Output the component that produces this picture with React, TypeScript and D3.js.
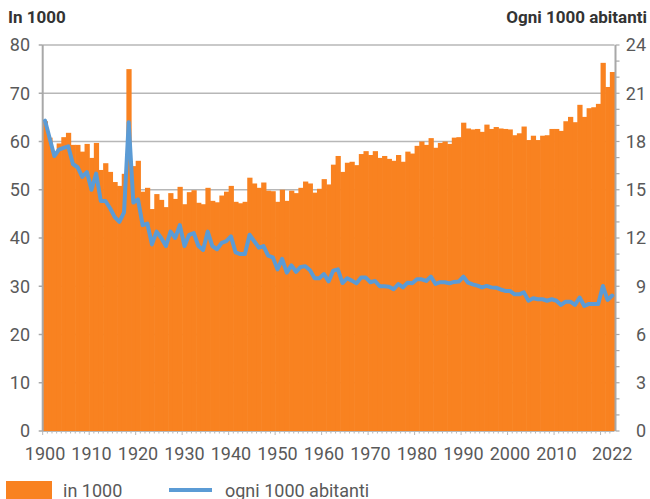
import React from "react";
import * as d3 from "d3";

const years: number[] = d3.range(1900, 2023);

const deathsThousands: number[] = [
  64.2, 60.8, 57.8, 59.6, 60.9, 61.8, 59.3, 59.3, 57.9, 59.5,
  56.6, 59.7, 54.1, 55.5, 53.7, 51.6, 50.8, 53.3, 75.0, 54.9,
  56.0, 49.6, 50.4, 46.0, 49.1, 47.9, 46.4, 49.3, 48.1, 50.6,
  47.0, 49.5, 49.9, 47.3, 47.0, 50.4, 47.7, 47.4, 48.8, 49.6,
  50.8, 47.5, 47.2, 47.5, 52.5, 51.3, 50.4, 51.5, 49.8, 49.7,
  47.5, 50.0, 47.7, 49.8, 49.3, 50.4, 51.7, 51.3, 49.4, 50.2,
  52.2, 51.1, 55.2, 57.0, 53.7, 55.6, 55.8, 55.1, 57.4, 58.0,
  57.2, 58.0, 56.6, 57.0, 56.4, 56.0, 57.2, 55.8, 57.9, 57.5,
  59.1, 60.0, 59.3, 60.7, 58.7, 59.7, 60.0, 59.5, 60.8, 60.9,
  63.9, 62.7, 62.5, 62.6, 62.0, 63.5, 62.6, 63.0, 62.7, 62.6,
  62.5, 61.3, 61.7, 63.1, 60.3, 61.2, 60.3, 61.2, 61.3, 62.6,
  62.6, 62.2, 64.2, 65.1, 64.0, 67.6, 65.1, 66.9, 67.1, 67.8,
  76.3, 71.3, 74.4,
];

const ratePer1000: number[] = [
  19.3, 18.2, 17.1, 17.5, 17.6, 17.7, 16.6, 16.4, 15.8, 16.1,
  15.0, 16.0, 14.3, 14.3, 13.85, 13.3, 13.0, 13.6, 19.2, 14.2,
  14.4, 12.8, 12.9, 11.6, 12.4, 12.0, 11.5, 12.4, 12.0, 12.8,
  11.5, 12.2, 12.3, 11.5, 11.26, 12.4, 11.5, 11.3, 11.7, 11.8,
  12.1, 11.1, 11.0, 11.0, 12.2, 11.8, 11.4, 11.5, 10.9, 10.8,
  10.05, 10.7, 9.85, 10.3, 9.9, 10.2, 10.25, 10.0, 9.5, 9.5,
  9.76, 9.3, 9.97, 10.05, 9.2, 9.5, 9.35, 9.18, 9.54, 9.54,
  9.25, 9.33, 9.0, 9.0, 8.97, 8.81, 9.14, 8.93, 9.22, 9.18,
  9.43, 9.43, 9.33, 9.6, 9.14, 9.25, 9.25, 9.18, 9.27, 9.29,
  9.6, 9.22, 9.12, 9.04, 8.93, 9.02, 8.93, 8.91, 8.8, 8.71,
  8.71, 8.5, 8.5, 8.62, 8.1, 8.25, 8.19, 8.19, 8.1, 8.19,
  8.1, 7.84, 8.04, 8.04, 7.84, 8.3, 7.77, 7.9, 7.9, 7.9,
  9.02, 8.15, 8.42,
];

const xTickYears: number[] = [1900, 1910, 1920, 1930, 1940, 1950, 1960, 1970, 1980, 1990, 2000, 2010, 2022];
const leftTicks: number[] = [0, 10, 20, 30, 40, 50, 60, 70, 80];
const rightTicks: number[] = [0, 3, 6, 9, 12, 15, 18, 21, 24];
const rightMinorTicks: number[] = d3.range(0, 25);

const leftTitle = "In 1000";
const rightTitle = "Ogni 1000 abitanti";
const legendBars = "in 1000";
const legendLine = "ogni 1000 abitanti";

const W = 650;
const H = 499;
const plotLeft = 42.7;
const plotRight = 614.5;
const plotTop = 45;
const plotBottom = 431;

const ORANGE = "#F98220";
const BLUE = "#5B9BD5";
const GRID = "#B7B7B7";
const AXIS = "#A8A8A8";
const TEXT = "#595959";
const FONT = "Roboto, 'Noto Sans', sans-serif";

export default function App() {
  const x = d3.scaleBand<number>().domain(years).range([plotLeft, plotRight]).padding(0);
  const yL = d3.scaleLinear().domain([0, 80]).range([plotBottom, plotTop]);
  const yR = d3.scaleLinear().domain([0, 24]).range([plotBottom, plotTop]);
  const bw = x.bandwidth();

  const line = d3
    .line<number>()
    .x((_, i) => (x(years[i]) as number) + bw / 2)
    .y((d) => yR(d));

  return (
    <svg
      width={W}
      height={H}
      style={{ position: "absolute", left: 0, top: 0, background: "#fff" }}
      fontFamily={FONT}
    >
      {/* gridlines */}
      {leftTicks
        .filter((t) => t > 0)
        .map((t) => (
          <line key={"g" + t} x1={plotLeft} x2={plotRight} y1={yL(t)} y2={yL(t)} stroke={GRID} strokeWidth={1.5} />
        ))}

      {/* bars */}
      {deathsThousands.map((v, i) => (
        <rect
          key={"b" + i}
          x={x(years[i]) as number}
          y={yL(v)}
          width={bw + 0.6}
          height={plotBottom - yL(v)}
          fill={ORANGE}
        />
      ))}

      {/* x axis */}
      <line x1={plotLeft} x2={plotRight} y1={plotBottom + 0.5} y2={plotBottom + 0.5} stroke={GRID} strokeWidth={1} />
      {years.map((yr) => (
        <line
          key={"xt" + yr}
          x1={(x(yr) as number)}
          x2={(x(yr) as number)}
          y1={plotBottom}
          y2={plotBottom + (yr % 10 === 0 ? 4 : 2.5)}
          stroke={GRID}
          strokeWidth={1}
        />
      ))}
      {xTickYears.map((yr) => (
        <text
          key={"xl" + yr}
          x={(x(yr) as number) + bw / 2}
          y={460}
          textAnchor="middle"
          fontSize={18}
          fill={TEXT}
        >
          {yr}
        </text>
      ))}

      {/* left axis */}
      <line x1={plotLeft} x2={plotLeft} y1={plotTop} y2={plotBottom} stroke={AXIS} strokeWidth={2} />
      {leftTicks.map((t) => (
        <g key={"lt" + t}>
          <line x1={plotLeft - 4} x2={plotLeft} y1={yL(t)} y2={yL(t)} stroke={AXIS} strokeWidth={1.5} />
          <text x={30} y={yL(t)} dy="0.35em" textAnchor="end" fontSize={18} fill={TEXT}>
            {t}
          </text>
        </g>
      ))}

      {/* right axis */}
      <line x1={plotRight + 1} x2={plotRight + 1} y1={plotTop} y2={plotBottom} stroke={AXIS} strokeWidth={2} />
      {rightMinorTicks.map((t) => (
        <line key={"rm" + t} x1={plotRight + 1} x2={plotRight + 5} y1={yR(t)} y2={yR(t)} stroke={AXIS} strokeWidth={1.2} />
      ))}
      {rightTicks.map((t) => (
        <text key={"rt" + t} x={646} y={yR(t)} dy="0.35em" textAnchor="end" fontSize={18} fill={TEXT}>
          {t}
        </text>
      ))}

      {/* line series */}
      <path d={line(ratePer1000) || ""} fill="none" stroke={BLUE} strokeWidth={4} strokeLinejoin="round" strokeLinecap="round" />

      {/* titles */}
      <text x={8} y={23} fontSize={17} fontWeight="bold" fill="#333">
        {leftTitle}
      </text>
      <text x={647} y={23} fontSize={17} fontWeight="bold" fill="#333" textAnchor="end">
        {rightTitle}
      </text>

      {/* legend */}
      <rect x={6} y={481} width={46} height={20} fill={ORANGE} />
      <text x={63} y={497} fontSize={18} fill={TEXT}>
        {legendBars}
      </text>
      <line x1={169} x2={212} y1={490} y2={490} stroke={BLUE} strokeWidth={4} />
      <text x={225} y={497} fontSize={18} fill={TEXT}>
        {legendLine}
      </text>
    </svg>
  );
}
